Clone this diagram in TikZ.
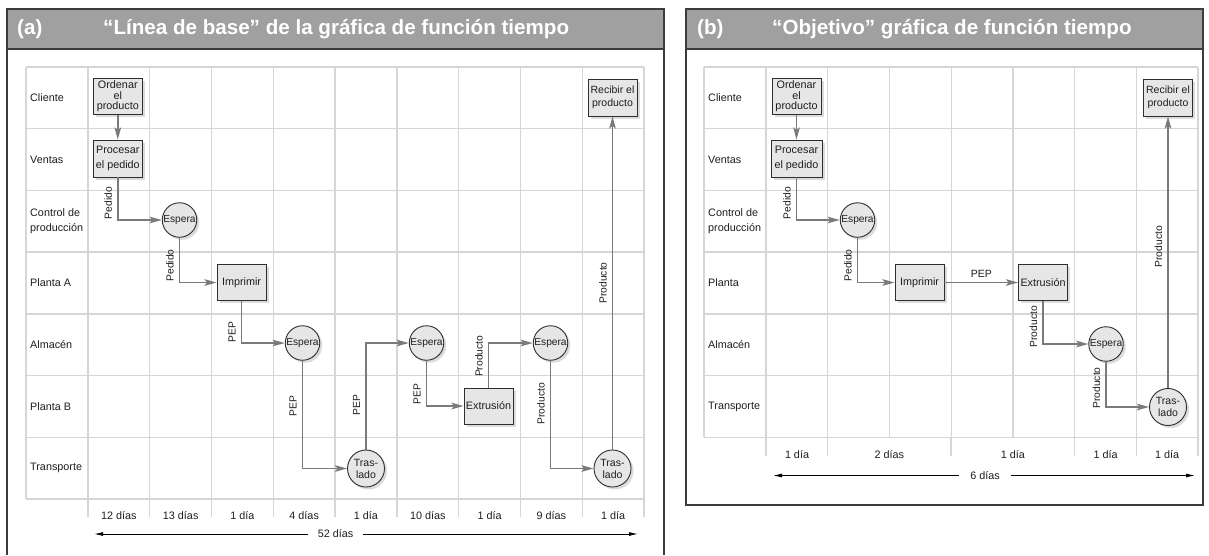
\documentclass[tikz,border=0pt]{standalone}
\usepackage{fontspec}
\setmainfont{Liberation Sans}
\usetikzlibrary{arrows.meta,shadows}
\definecolor{hdr}{HTML}{A0A0A0}
\definecolor{frm}{HTML}{3C3C3C}
\definecolor{grd}{HTML}{D6D6D6}
\definecolor{nfill}{HTML}{E6E6E6}
\definecolor{nline}{HTML}{2E2E2E}
\definecolor{flow}{HTML}{7A7A7A}
\definecolor{txt}{HTML}{1E1E1E}
\definecolor{shd}{HTML}{B8B8B8}
\tikzset{
  panelframe/.style={draw=frm, line width=1.5pt},
  gridline/.style={draw=grd, line width=1.3pt},
  shbox/.style={draw=nline, line width=0.9pt, fill=nfill, inner sep=1pt, align=center,
    font=\fontsize{10.8}{14.3}\selectfont,
    drop shadow={shadow xshift=2.5pt, shadow yshift=-2.5pt, fill=shd, draw=none}},
  shcirc/.style={shbox, circle, minimum size=34.5pt, inner sep=0pt, font=\fontsize{10.2}{12}\selectfont},
  flowline/.style={draw=flow, line width=1.9pt, -{Stealth[length=12pt,width=6.5pt,inset=2.5pt]}},
  vlbl/.style={rotate=90, anchor=south, font=\fontsize{10.3}{12}\selectfont, inner sep=2.5pt, text depth=2.5pt},
  hlbl/.style={above=2pt, font=\fontsize{10.5}{12}\selectfont, inner sep=2pt},
  rowlbl/.style={anchor=west, align=left, inner sep=0pt, font=\fontsize{10.8}{15}\selectfont},
  daylbl/.style={font=\fontsize{10.8}{12}\selectfont, inner sep=0pt},
  spanarrow/.style={draw=black, line width=0.9pt, -{Latex[length=9pt,width=4pt]}},
  titletext/.style={anchor=west, inner sep=0pt, text=white, font=\fontsize{20.6}{24}\bfseries\selectfont},
  every node/.style={text=txt}
}
\begin{document}
\begin{tikzpicture}[x=1pt,y=-1pt]
\useasboundingbox (0,0) rectangle (1209,555);
\fill[white] (0,0) rectangle (1209,555);

% ---------------- Panel (a) ----------------
\fill[hdr] (7,9) rectangle (664,49);
\draw[panelframe] (7,555) -- (7,9) -- (664,9) -- (664,555);
\draw[panelframe] (7,49) -- (664,49);
\node[titletext] (ha) at (17,29) {(a)};
\node[titletext] (ta) at (103,29) {“Línea de base” de la gráfica de función tiempo};

% grid
\foreach \r in {0,...,7} \draw[gridline] (26,67+\r*61.714) -- (644,67+\r*61.714);
\draw[gridline] (26,67) -- (26,499);
\foreach \c in {0,...,9} \draw[gridline] (88+\c*61.778,67) -- (88+\c*61.778,517);

% row labels
\node[rowlbl] (la1) at (30,98) {Cliente};
\node[rowlbl] (la2) at (30,160) {Ventas};
\node[rowlbl] (la3) at (30,221.5) {Control de\\producción};
\node[rowlbl] (la4) at (30,283) {Planta A};
\node[rowlbl] (la5) at (30,345) {Almacén};
\node[rowlbl] (la6) at (30,406.5) {Planta B};
\node[rowlbl] (la7) at (30,468) {Transporte};

% nodes
\node[shbox, minimum width=49pt, minimum height=36pt, font=\fontsize{10.8}{10.7}\selectfont] (oa) at (117.8,96.5) {Ordenar\\el\\producto};
\node[shbox, minimum width=49pt, minimum height=37pt] (pa) at (117.8,158.5) {Procesar\\el pedido};
\node[shcirc] (ea1) at (179.5,220) {Espera};
\node[shbox, minimum width=49pt, minimum height=36pt] (ia) at (241.5,282.5) {Imprimir};
\node[shcirc] (ea2) at (302.5,343) {Espera};
\node[shcirc, minimum size=37pt, font=\fontsize{10.5}{12}\selectfont] (tra1) at (366,468.5) {Tras-\\lado};
\node[shcirc] (ea3) at (426.5,343) {Espera};
\node[shbox, minimum width=49pt, minimum height=36pt] (xa) at (488.5,406) {Extrusión};
\node[shcirc] (ea4) at (550.5,343) {Espera};
\node[shcirc, minimum size=37pt, font=\fontsize{10.5}{12}\selectfont] (tra2) at (612.5,468.5) {Tras-\\lado};
\node[shbox, minimum width=49pt, minimum height=37pt, font=\fontsize{10.5}{13}\selectfont] (ra) at (612.5,97.5) {Recibir el\\producto};

% connectors
\draw[flowline] (oa.south) -- (pa.north);
\draw[flowline] (pa.south) |- node[vlbl,pos=0.3]{Pedido} (ea1.west);
\draw[flowline] (ea1.south) |- node[vlbl,pos=0.31]{Pedido} (ia.west);
\draw[flowline] (ia.south) |- node[vlbl,pos=0.37]{PEP} (ea2.west);
\draw[flowline] (ea2.south) |- node[vlbl,pos=0.21]{PEP} (tra1.west);
\draw[flowline] (tra1.north) |- node[vlbl,pos=0.21]{PEP} (ea3.west);
\draw[flowline] (ea3.south) |- node[vlbl,pos=0.37]{PEP} (xa.west);
\draw[flowline] (xa.north) |- node[vlbl,pos=0.35]{Producto} (ea4.west);
\draw[flowline] (ea4.south) |- node[vlbl,pos=0.2]{Producto} (tra2.west);
\draw[flowline] (tra2.north) -- node[vlbl,pos=0.5]{Producto} (ra.south);

% days
\node[daylbl] (da1) at (118.9,515.5) {12 días};
\node[daylbl] (da2) at (180.7,515.5) {13 días};
\node[daylbl] (da3) at (242.5,515.5) {1 día};
\node[daylbl] (da4) at (304.2,515.5) {4 días};
\node[daylbl] (da5) at (366.0,515.5) {1 día};
\node[daylbl] (da6) at (427.8,515.5) {10 días};
\node[daylbl] (da7) at (489.6,515.5) {1 día};
\node[daylbl] (da8) at (551.4,515.5) {9 días};
\node[daylbl] (da9) at (613.1,515.5) {1 día};
\node[daylbl, inner xsep=10pt] (tota) at (335.5,534) {52 días};
\coordinate (aL) at (94,534);
\coordinate (aR) at (638,534);
\draw[spanarrow] (tota.west) -- (aL);
\draw[spanarrow] (tota.east) -- (aR);

% ---------------- Panel (b) ----------------
\fill[hdr] (686,9) rectangle (1203,49);
\draw[panelframe] (686,9) rectangle (1203,505);
\draw[panelframe] (686,49) -- (1203,49);
\node[titletext] (hb) at (697,29) {(b)};
\node[titletext] (tb) at (772,29) {“Objetivo” gráfica de función tiempo};

\foreach \r in {0,...,6} \draw[gridline] (704,67+\r*61.714) -- (1198,67+\r*61.714);
\draw[gridline] (704,67) -- (704,437.3);
\foreach \c in {0,...,7} \draw[gridline] (766+\c*61.714,67) -- (766+\c*61.714,437.3);
\foreach \x in {766,827.7,951.1,1074.6,1136.3,1198} \draw[gridline] (\x,437.3) -- (\x,456);

\node[rowlbl] (lb1) at (708,98) {Cliente};
\node[rowlbl] (lb2) at (708,160) {Ventas};
\node[rowlbl] (lb3) at (708,221.5) {Control de\\producción};
\node[rowlbl] (lb4) at (708,283) {Planta};
\node[rowlbl] (lb5) at (708,345) {Almacén};
\node[rowlbl] (lb6) at (708,406.5) {Transporte};

\node[shbox, minimum width=49pt, minimum height=36pt, font=\fontsize{10.8}{10.7}\selectfont] (ob) at (796.5,96.5) {Ordenar\\el\\producto};
\node[shbox, minimum width=51pt, minimum height=37pt] (pb) at (796.5,158.5) {Procesar\\el pedido};
\node[shcirc] (eb1) at (857.5,220) {Espera};
\node[shbox, minimum width=49pt, minimum height=36pt] (ib) at (919.5,282.5) {Imprimir};
\node[shbox, minimum width=49pt, minimum height=36pt] (xb) at (1043,282.5) {Extrusión};
\node[shcirc] (eb2) at (1106,344) {Espera};
\node[shcirc, minimum size=37pt, font=\fontsize{10.5}{12}\selectfont] (trb) at (1168,407) {Tras-\\lado};
\node[shbox, minimum width=49pt, minimum height=37pt, font=\fontsize{10.5}{13}\selectfont] (rb) at (1168,97.5) {Recibir el\\producto};

\draw[flowline] (ob.south) -- (pb.north);
\draw[flowline] (pb.south) |- node[vlbl,pos=0.3]{Pedido} (eb1.west);
\draw[flowline] (eb1.south) |- node[vlbl,pos=0.31]{Pedido} (ib.west);
\draw[flowline] (ib.east) -- node[hlbl]{PEP} (xb.west);
\draw[flowline] (xb.south) |- node[vlbl,pos=0.3]{Producto} (eb2.west);
\draw[flowline] (eb2.south) |- node[vlbl,pos=0.29]{Producto} (trb.west);
\draw[flowline] (trb.north) -- node[vlbl,pos=0.52]{Producto} (rb.south);

\node[daylbl] (db1) at (797,455) {1 día};
\node[daylbl] (db2) at (889.4,455) {2 días};
\node[daylbl] (db3) at (1012.9,455) {1 día};
\node[daylbl] (db4) at (1105.5,455) {1 día};
\node[daylbl] (db5) at (1167,455) {1 día};
\node[daylbl, inner xsep=11pt] (totb) at (985,475.5) {6 días};
\coordinate (bL) at (773,475.5);
\coordinate (bR) at (1195,475.5);
\draw[spanarrow] (totb.west) -- (bL);
\draw[spanarrow] (totb.east) -- (bR);
\end{tikzpicture}
\end{document}
